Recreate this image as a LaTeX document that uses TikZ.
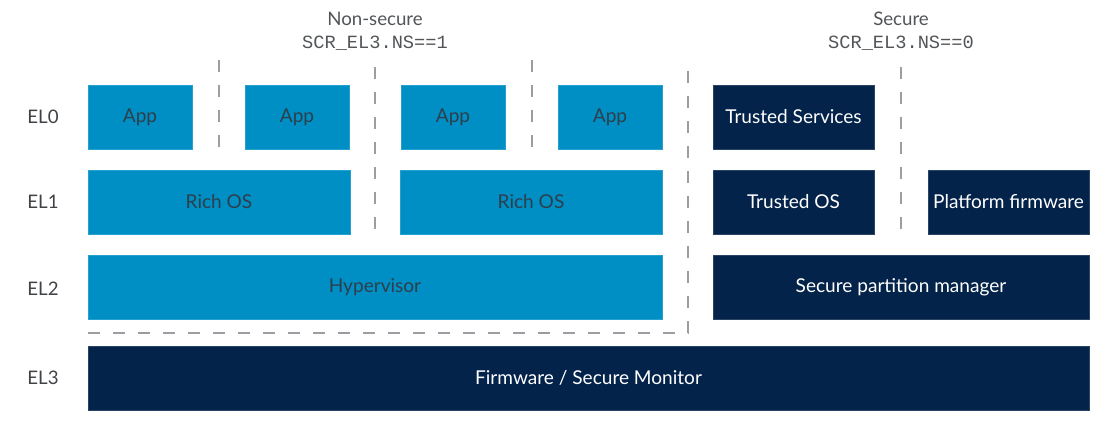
\documentclass[tikz,border=0pt]{standalone}
\usepackage{fontspec}
\setmainfont{Lato}
\setmonofont{Liberation Mono}
\usetikzlibrary{positioning}
\definecolor{nsblue}{HTML}{008FC4}
\definecolor{snavy}{HTML}{03234A}
\definecolor{nstext}{HTML}{2E3F4C}
\definecolor{divgray}{HTML}{9A9EA3}
\definecolor{labgray}{HTML}{3F4246}
\tikzset{
  nsbox/.style = {rectangle, draw=nsblue!85!white, fill=nsblue, text=nstext,
     minimum height=48pt, inner sep=0pt, outer sep=0pt, line width=0.5pt,
     font=\fontsize{14.3}{17}\selectfont},
  sbox/.style = {rectangle, draw=snavy!85!white, fill=snavy, text=white,
     minimum height=48pt, inner sep=0pt, outer sep=0pt, line width=0.5pt,
     font=\fontsize{14.3}{17}\selectfont},
  ellabel/.style = {text=labgray, inner sep=0pt, font=\fontsize{14}{17}\selectfont},
  worldhead/.style = {text=labgray!90, inner sep=0pt, font=\fontsize{14}{17}\selectfont},
  worldreg/.style = {text=labgray!90, inner sep=0pt, font=\ttfamily\fontsize{14}{17}\selectfont},
  divider/.style = {draw=divgray, line width=1.5pt, dash pattern=on 9pt off 9.75pt}
}

\begin{document}
\begin{tikzpicture}[x=0.75pt, y=-0.75pt]
   \useasboundingbox (0,0) rectangle (1096,422);

   % Headers
   \node[worldhead] (nshead) at (375,19) {Non-secure};
   \node[worldreg] (nsreg) at (375,43) {SCR\_EL3.NS==1};
   \node[worldhead] (shead) at (901,19) {Secure};
   \node[worldreg] (sreg) at (901,43) {SCR\_EL3.NS==0};

   % Exception levels
   \node[ellabel] (el0) at (43,117) {EL0};
   \node[ellabel] (el1) at (43,202) {EL1};
   \node[ellabel] (el2) at (43,289) {EL2};
   \node[ellabel] (el3) at (43,378) {EL3};

   % NON-SECURE %%%%%%%%%%%%%%%%%%%%%%%%%%%%%%%%%%%%%%%%%%%%%%%%%%
   \node[nsbox, minimum width=78pt] (appA) at (140,117) {App};
   \node[nsbox, minimum width=78pt] (appB) at (297,117) {App};
   \node[nsbox, minimum width=78pt] (appC) at (453,117) {App};
   \node[nsbox, minimum width=78pt] (appD) at (610,117) {App};

   \node[nsbox, minimum width=196.5pt] (richA) at (219,202) {Rich OS};
   \node[nsbox, minimum width=196.5pt] (richB) at (531,202) {Rich OS};

   \node[nsbox, minimum width=430.5pt] (hyp) at (375,287) {Hypervisor};

   % SECURE %%%%%%%%%%%%%%%%%%%%%%%%%%%%%%%%%%%%%%%%%%%%%%%%%%%%%%
   \node[sbox, minimum width=120.75pt] (tsvc) at (793.5,117) {Trusted Services};
   \node[sbox, minimum width=120.75pt] (tos) at (793.5,202) {Trusted OS};
   \node[sbox, minimum width=120.75pt] (pfw) at (1008.5,202) {Platform firmware};
   \node[sbox, minimum width=282pt] (spm) at (901,287) {Secure partition manager};

   % EL3
   \node[sbox, minimum width=750.75pt] (mon) at (588.5,378) {Firmware / Secure Monitor};

   % Dividers
   \draw[divider] (219,60) -- (219,149);
   \draw[divider] (375,67) -- (375,234);
   \draw[divider] (532,60) -- (532,149);
   \draw[divider] (88,333) -- (688,333) -- (688,60);
   \draw[divider] (901,67) -- (901,234);
\end{tikzpicture}
\end{document}
